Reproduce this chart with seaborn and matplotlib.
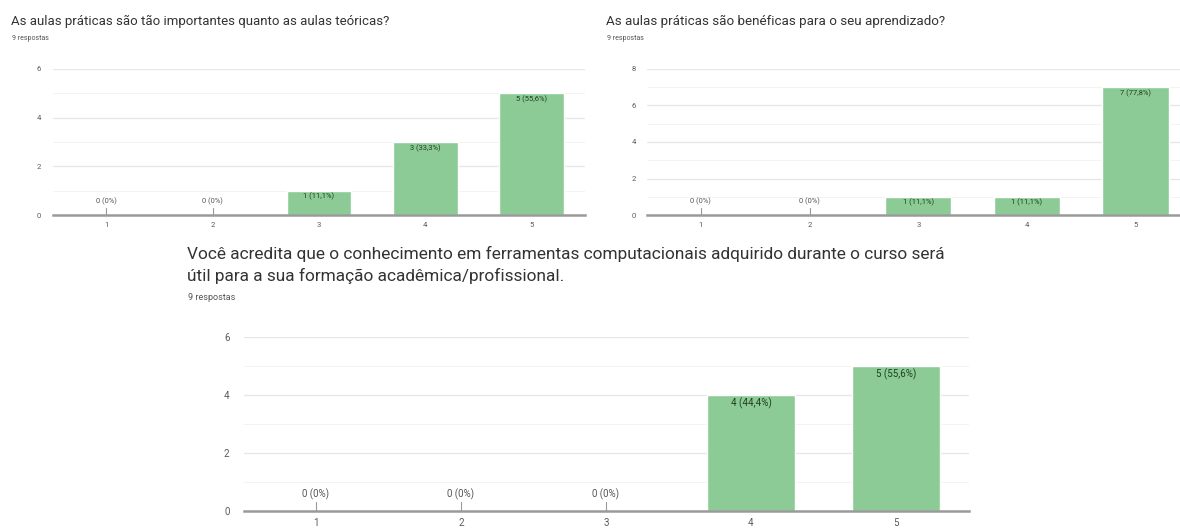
import numpy as np
import pandas as pd
import matplotlib
matplotlib.use('Agg')
import matplotlib.pyplot as plt
import seaborn as sns

sns.set_theme(style="white")
plt.rcParams['font.family'] = ['Roboto', 'DejaVu Sans']

# dados
opcoes = ['1', '2', '3', '4', '5']
respostas_importancia = [0, 0, 1, 3, 5]
respostas_beneficio = [0, 0, 1, 1, 7]
respostas_ferramentas = [0, 0, 0, 4, 5]
total_respostas = 9

titulo_1 = 'As aulas práticas são tão importantes quanto as aulas teóricas?'
titulo_2 = 'As aulas práticas são benéficas para o seu aprendizado?'
titulo_3 = ('Você acredita que o conhecimento em ferramentas computacionais adquirido durante o curso será\n'
            'útil para a sua formação acadêmica/profissional.')
subtitulo = f'{total_respostas} respostas'

VERDE = '#8ccb95'
W, H = 1180, 529


def px_axes(fig, left, right, top, bottom):
    return fig.add_axes([left / W, (H - bottom) / H, (right - left) / W, (bottom - top) / H])


def rotulo(n):
    pct = n / total_respostas * 100
    if n == 0:
        return '0 (0%)'
    return f'{n} ({pct:.1f}%)'.replace('.', ',')


def painel(ax, valores, ymax, fs_tick, fs_val, ypad, xpad, zero_off):
    df = pd.DataFrame({'opcao': opcoes, 'n': valores})
    sns.barplot(data=df, x='opcao', y='n', color=VERDE, saturation=1,
                width=0.61, ax=ax, zorder=2)
    ax.set_xlim(-0.5, 4.5)
    ax.set_ylim(0, ymax)
    ax.set_yticks(np.arange(0, ymax + 1, 2))
    ax.set_yticks(np.arange(1, ymax, 2), minor=True)
    ax.grid(True, axis='y', which='major', color='#e6e6e6', lw=0.9, zorder=0)
    ax.grid(True, axis='y', which='minor', color='#f3f3f3', lw=0.7, zorder=0)
    ax.set_xlabel('')
    ax.set_ylabel('')
    for s in ('top', 'right', 'left'):
        ax.spines[s].set_visible(False)
    ax.spines['bottom'].set_color('#9a9a9a')
    ax.spines['bottom'].set_linewidth(1.8)
    ax.spines['bottom'].set_zorder(3)
    ax.tick_params(axis='both', which='both', length=0, labelcolor='#5a5a5a',
                   labelsize=fs_tick)
    ax.tick_params(axis='y', pad=ypad)
    ax.tick_params(axis='x', pad=xpad)
    for i, n in enumerate(valores):
        if n == 0:
            ax.annotate(rotulo(n), (i, 0), xytext=(0, zero_off), textcoords='offset points',
                        ha='center', va='center', fontsize=fs_val, color='#555555')
            ax.plot([i, i], [0, ymax * 0.05], color='#9a9a9a', lw=0.8, zorder=3)
        else:
            ax.annotate(rotulo(n), (i, n), xytext=(0, -fs_val * 0.8), textcoords='offset points',
                        ha='center', va='center', fontsize=fs_val, color='#1f3f22')


fig = plt.figure(figsize=(W / 100, H / 100), dpi=100)
fig.patch.set_facecolor('white')

ax1 = px_axes(fig, 53, 585, 69, 215)
painel(ax1, respostas_importancia, 6, 5.5, 5.4, 8.5, 5, 10)

ax2 = px_axes(fig, 646.5, 1190, 69, 215)
painel(ax2, respostas_beneficio, 8, 5.5, 5.4, 7.5, 5, 10)

ax3 = px_axes(fig, 243.5, 968.5, 337, 511)
painel(ax3, respostas_ferramentas, 6, 7, 7, 10, 5, 12)

# titulos
fig.text(11 / W, 1 - 21 / H, titulo_1, fontsize=9.5, color='#333333', va='center')
fig.text(12 / W, 1 - 38 / H, subtitulo, fontsize=5, color='#555555', va='center')
fig.text(606 / W, 1 - 21 / H, titulo_2, fontsize=9.6, color='#333333', va='center')
fig.text(607 / W, 1 - 38 / H, subtitulo, fontsize=5, color='#555555', va='center')
fig.text(187 / W, 1 - 265 / H, titulo_3, fontsize=12.4, color='#333333', va='center',
         linespacing=1.5)
fig.text(188 / W, 1 - 297 / H, subtitulo, fontsize=6.5, color='#555555', va='center')

fig.savefig('out.png', dpi=100, facecolor='white')
